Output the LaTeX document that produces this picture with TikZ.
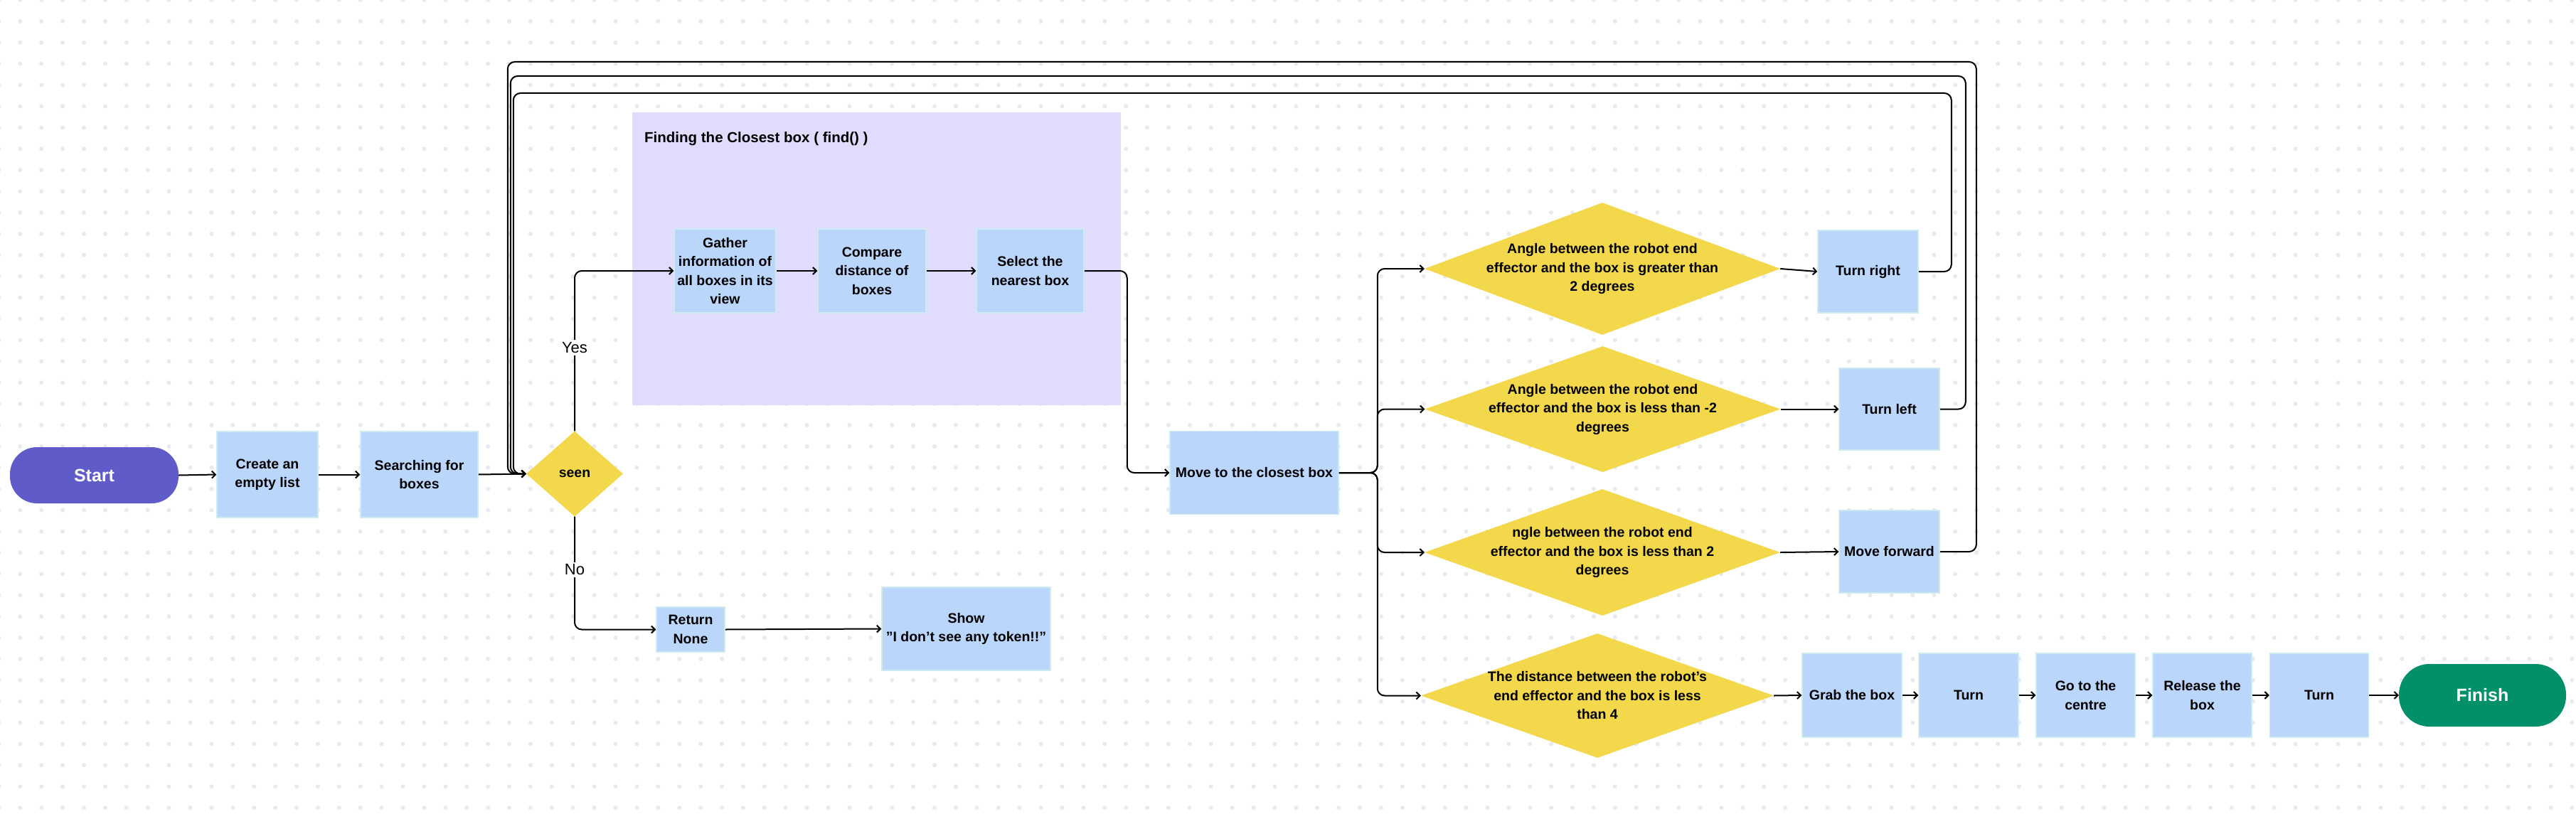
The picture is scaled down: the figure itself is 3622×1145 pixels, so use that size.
\documentclass[tikz,border=0pt]{standalone}
\usepackage{fontspec}
\setmainfont{Liberation Sans}
\usetikzlibrary{arrows.meta, shapes.geometric}

\definecolor{boxblue}{RGB}{187,214,251}
\definecolor{boxedge}{RGB}{205,236,240}
\definecolor{dyellow}{RGB}{243,216,76}
\definecolor{startc}{RGB}{95,92,201}
\definecolor{finishc}{RGB}{2,144,107}
\definecolor{groupc}{RGB}{225,220,253}
\definecolor{dotc}{RGB}{232,234,239}

\newcommand{\boxfont}{\fontsize{19.5}{26.5}\selectfont\bfseries}
\newcommand{\termfont}{\fontsize{25}{30}\selectfont\bfseries}
\newcommand{\grpfont}{\fontsize{20.5}{24}\selectfont\bfseries}

\tikzset{
  procbox/.style 2 args={rectangle, fill=boxblue, draw=boxedge, line width=1.5pt,
    align=center, font=\boxfont, inner sep=0pt, minimum width=#1pt, minimum height=#2pt},
  decision/.style 2 args={diamond, fill=dyellow, inner sep=0pt,
    minimum width=#1pt, minimum height=#2pt},
  dtext/.style={align=center, font=\boxfont, inner sep=0pt},
  terminal/.style n args={3}{rectangle, fill=#1, rounded corners=38pt, text=white,
    font=\termfont, inner sep=0pt, minimum width=#2pt, minimum height=#3pt},
  groupbox/.style={rectangle, fill=groupc, inner sep=0pt},
  flow/.style={->, line width=2pt, rounded corners=10pt},
  lbl/.style={fill=white, sharp corners, inner sep=3pt, font=\fontsize{22}{26}\selectfont},
}

\begin{document}
\begin{tikzpicture}[x=1pt, y=-1pt, >={Straight Barb[length=5pt,width=10pt]}]
    % canvas with dot grid
    \useasboundingbox (0,0) rectangle (3622,1145);
    \fill[white] (0,0) rectangle (3622,1145);
    \foreach \j in {0,...,38}
        \fill[dotc] \foreach \i in {-1,...,120} {({28.3+29.9*\i},{29.9*\j}) circle (3pt)};

    % find() group
    \node[groupbox, anchor=north west, minimum width=687pt, minimum height=412pt] (findgrp) at (889,158) {};
    \node[anchor=west, font=\grpfont, inner sep=0pt] (findlbl) at (906,195) {Finding the Closest box ( find() )};

    % main line
    \node[terminal={startc}{237}{79}] (start) at (132.5,668.5) {Start};
    \node[procbox={142}{121}] (create) at (376,667.5) {Create an\\empty list};
    \node[procbox={165}{121}] (search) at (589.5,667.5) {Searching for\\boxes};
    \node[decision={136}{120}, font=\boxfont] (seen) at (808,666.5) {seen};

    \node[procbox={143}{118}] (gather) at (1019.5,381) {Gather\\information of\\all boxes in its\\view};
    \node[procbox={152}{118}] (compare) at (1226,381) {Compare\\distance of\\boxes};
    \node[procbox={151}{118}] (select) at (1448.5,381) {Select the\\nearest box};

    \node[procbox={96}{63}] (ret) at (971,885.5) {Return\\None};
    \node[procbox={237}{117}] (show) at (1358.5,884.5) {Show\\"I don't see any token!!"};

    \node[procbox={237}{117}] (move) at (1763.5,665) {Move to the closest box};

    % decisions
    \node[decision={500}{186}] (d1) at (2253,378) {};
    \node[dtext] (d1t) at (d1) {Angle between the robot end\\effector and the box is greater than\\2 degrees};
    \node[decision={500}{177}] (d2) at (2253.5,575.5) {};
    \node[dtext] (d2t) at (d2) {Angle between the robot end\\effector and the box is less than -2\\degrees};
    \node[decision={500}{178}] (d3) at (2253,777) {};
    \node[dtext] (d3t) at (d3) {ngle between the robot end\\effector and the box is less than 2\\degrees};
    \node[decision={496}{175}] (d4) at (2246,978.5) {};
    \node[dtext] (d4t) at (d4) {The distance between the robot's\\end effector and the box is less\\than 4};

    \node[procbox={141}{116}] (tr) at (2626.5,382) {Turn right};
    \node[procbox={141}{115}] (tl) at (2656.5,575.5) {Turn left};
    \node[procbox={141}{116}] (mf) at (2656.5,776) {Move forward};

    % last row
    \node[procbox={140}{118}] (grab) at (2604,978) {Grab the box};
    \node[procbox={140}{118}] (turna) at (2768,978) {Turn};
    \node[procbox={139}{118}] (goto) at (2932.5,978) {Go to the\\centre};
    \node[procbox={139}{118}] (rel) at (3096.5,978) {Release the\\box};
    \node[procbox={139}{118}] (turnb) at (3261,978) {Turn};
    \node[terminal={finishc}{235}{88}, rounded corners=43pt] (finish) at (3490.5,978) {Finish};

    % connectors
    \draw[flow] (start.east) -- (create.west);
    \draw[flow] (create.east) -- (search.west);
    \draw[flow] (search.east) -- (seen.west);
    \draw[flow] (seen.north) |- node[lbl, pos=0.26] (yes) {Yes} (gather.west);
    \draw[flow] (gather.east) -- (compare.west);
    \draw[flow] (compare.east) -- (select.west);
    \draw[flow] (select.east) -- ++(60,0) |- (move.west);
    \draw[flow] (seen.south) |- node[lbl, pos=0.235] (no) {No} (ret.west);
    \draw[flow] (ret.east) -- (show.west);

    \foreach \d in {d1,d2,d3,d4}
        \draw[flow] (move.east) -- ++(54,0) |- (\d.west);
    \draw[flow] (d1.east) -- (tr.west);
    \draw[flow] (d2.east) -- (tl.west);
    \draw[flow] (d3.east) -- (mf.west);

    % back to seen
    \draw[flow] (tr.east) -| ++(46,-251) -| ([xshift=-18pt]seen.west) -- (seen.west);
    \draw[flow] (tl.east) -| ++(36,-468.5) -| ([xshift=-22pt]seen.west) -- (seen.west);
    \draw[flow] (mf.east) -| ++(51,-689) -| ([xshift=-26pt]seen.west) -- (seen.west);

    \foreach \a/\b in {d4/grab, grab/turna, turna/goto, goto/rel, rel/turnb, turnb/finish}
        \draw[flow] (\a.east) -- (\b.west);
\end{tikzpicture}
\end{document}
